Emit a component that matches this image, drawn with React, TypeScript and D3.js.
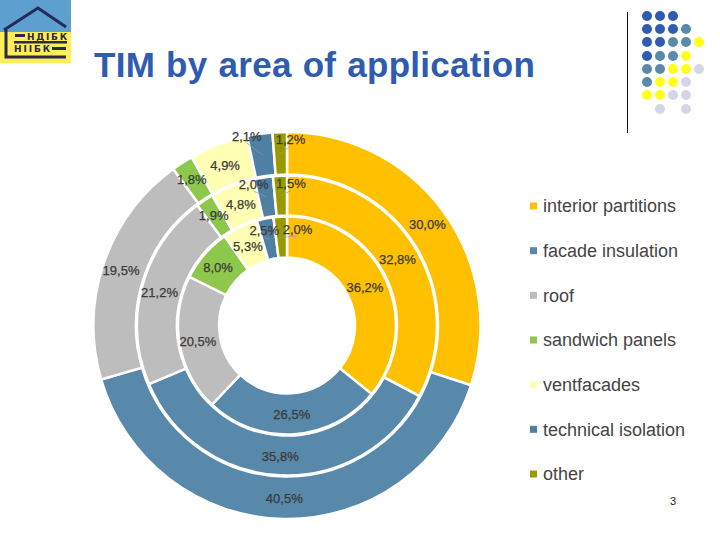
import React from "react";
import * as d3 from "d3";

const categories = ["interior partitions", "facade insulation", "roof", "sandwich panels", "ventfacades", "technical isolation", "other"];
const colors = ["#ffc000", "#5888aa", "#bdbdbd", "#8dc74c", "#ffffb3", "#4f7fa3", "#9a9a00"];

// rings from the inside out
const innerValues = [36.2, 26.5, 20.5, 8.0, 5.3, 2.5, 2.0];
const middleValues = [32.8, 35.8, 21.2, 1.9, 4.8, 2.0, 1.5];
const outerValues = [30.0, 40.5, 19.5, 1.8, 4.9, 2.1, 1.2];
const rings = [innerValues, middleValues, outerValues];

const ringRadii = [[68, 109], [110, 150], [151, 193.5]];

// label nudges away from the arc centroid, per ring and slice
const labelNudge = [
  [[-2, 0], [-1, 1], [-2, 1], [-2, 0], [-1, 1], [-5, -8], [16, -8]],
  [[-1, 1], [-1, 1], [-2, 1], [-2, -1], [1, 0], [-13, -13], [10, -12]],
  [[1, 0], [0, 1], [-3, 1], [-2, -1], [-1, 1], [-16, -19], [10, -14]],
];

const dotColumns = [647, 660, 673, 686, 699];
const dotRows = [16, 29, 42, 56, 69, 82, 95, 109];
const B = "#2f5bb0", T = "#5a8aa8", Y = "#ffff1a", L = "#d4d6e8";
const dotGrid = [
  [B, B, B, null, null],
  [B, B, B, T, null],
  [B, B, T, T, Y],
  [B, T, T, Y, null],
  [T, T, Y, Y, L],
  [T, Y, Y, L, null],
  [Y, Y, L, L, null],
  [null, L, null, L, null],
];

const cx = 287;
const cy = 325.5;

const legendY = d3.scalePoint<string>().domain(categories).range([206, 474]);

const fmt = (v: number) => v.toFixed(1).replace(".", ",") + "%";

export default function App() {
  const pie = d3.pie<number>().sort(null).startAngle(0).endAngle(2 * Math.PI);

  return (
    <svg
      width={720}
      height={540}
      style={{ position: "absolute", left: 0, top: 0, background: "#fff", fontFamily: "'Liberation Sans', Arial, sans-serif" }}
    >
      {/* logo */}
      <rect x={0} y={0} width={71} height={63} fill="#ffee58" />
      <rect x={0} y={0} width={71} height={32} fill="#5d9fcf" />
      <path d="M4 30 L38 8 L66 27" fill="none" stroke="#232a5c" strokeWidth={3} />
      <path d="M6 30 V57 H66" fill="none" stroke="#2a2a40" strokeWidth={3} />
      <rect x={15} y={34} width={10} height={3} fill="#2a2a40" />
      <rect x={14} y={41} width={53} height={2.5} fill="#2a2a40" />
      <text x={27} y={40} fontSize={9} fontWeight="bold" fill="#2a2a40" textLength={40} fontFamily="'DejaVu Sans'">НДІБК</text>
      <text x={14} y={52} fontSize={9} fontWeight="bold" fill="#2a2a40" textLength={36} fontFamily="'DejaVu Sans'">НІІБК</text>
      <rect x={52} y={47} width={14} height={3} fill="#2a2a40" />

      <text x={94} y={77} fontSize={35} fontWeight="bold" fill="#2f5bb0" wordSpacing={1} letterSpacing={0.28}>TIM by area of application</text>

      <line x1={627.5} x2={627.5} y1={12} y2={133} stroke="#111" strokeWidth={1} />
      {dotGrid.map((row, r) =>
        row.map((c, k) =>
          c ? <circle key={`${r}-${k}`} cx={dotColumns[k]} cy={dotRows[r]} r={5} fill={c} /> : null
        )
      )}

      <g transform={`translate(${cx},${cy})`}>
        {rings.map((values, r) => {
          const arc = d3.arc<d3.PieArcDatum<number>>().innerRadius(ringRadii[r][0]).outerRadius(ringRadii[r][1]);
          return pie(values).map((d, i) => (
            <path key={`${r}-${i}`} d={arc(d) ?? ""} fill={colors[i]} stroke="#fff" strokeWidth={2.5} />
          ));
        })}
        {rings.map((values, r) => {
          const arc = d3.arc<d3.PieArcDatum<number>>().innerRadius(ringRadii[r][0]).outerRadius(ringRadii[r][1]);
          return pie(values).map((d, i) => {
            const [x, y] = arc.centroid(d);
            const lx = x + labelNudge[r][i][0];
            const ly = y + labelNudge[r][i][1];
            return (
              <g key={`${r}-${i}`}>
                {i >= 5 && <line x1={lx} y1={ly + 7} x2={x} y2={y} stroke="#999" strokeWidth={0.7} />}
                <text x={lx} y={ly} dy="0.35em" textAnchor="middle" fontSize={13} fill="#3a3a3a" stroke="#3a3a3a" strokeWidth={0.25}>
                  {fmt(values[i])}
                </text>
              </g>
            );
          });
        })}
      </g>

      {categories.map((c, i) => (
        <g key={c}>
          <rect x={530} y={(legendY(c) as number) - 3.5} width={7} height={7} fill={colors[i]} />
          <text x={543} y={legendY(c) as number} dy="0.35em" fontSize={18} fill="#444">{c}</text>
        </g>
      ))}

      <text x={673} y={505} textAnchor="middle" fontSize={11} fill="#222">3</text>
    </svg>
  );
}
